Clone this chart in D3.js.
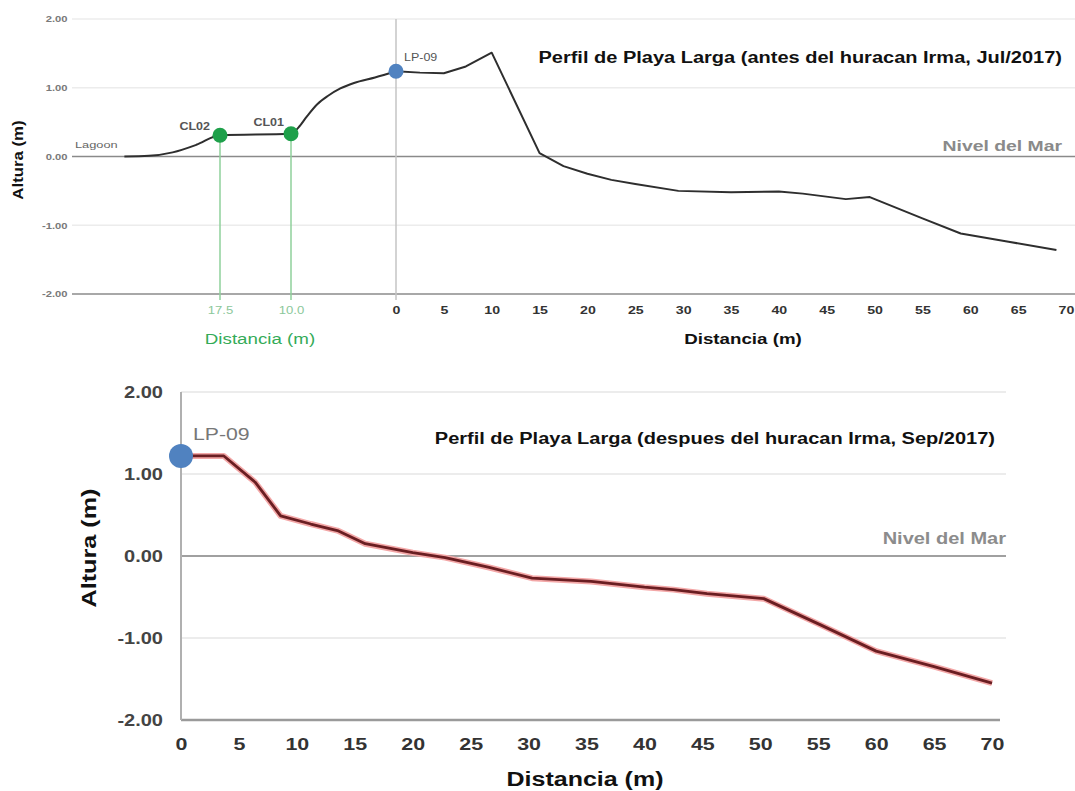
<!DOCTYPE html>
<html>
<head>
<meta charset="utf-8">
<script src="https://cdn.jsdelivr.net/npm/d3@7"></script>
<style>
  body { margin: 0; background: #fff; }
  svg { display: block; font-family: "Liberation Sans", Arial, sans-serif; }
</style>
</head>
<body>
<svg id="chart" width="1075" height="791"></svg>
<script>
// before Irma (Jul/2017) - negative distance = inland side of LP-09
const topDist = [-27.6, -25, -22.5, -20, -17.5, -10, -9.3, -8.5, -7.5, -6.5, -5.3, -4, -2, 0, 2.5, 5, 7.3, 10, 15, 17.5, 20, 22.5, 25, 29.5, 35, 40, 42.5, 47, 49.5, 55, 59, 64, 69];
const topAlt  = [0, 0.01, 0.06, 0.17, 0.31, 0.33, 0.42, 0.58, 0.76, 0.88, 0.99, 1.07, 1.15, 1.24, 1.22, 1.21, 1.31, 1.51, 0.05, -0.14, -0.25, -0.34, -0.40, -0.50, -0.52, -0.51, -0.54, -0.62, -0.59, -0.90, -1.12, -1.24, -1.36];

// after Irma (Sep/2017)
const botDist = [0, 3.7, 6.4, 8.6, 11.2, 13.5, 15.9, 20, 22.8, 26.6, 30.3, 35.4, 40, 42.5, 45.4, 50.3, 55.2, 60, 65, 70];
const botAlt  = [1.22, 1.22, 0.90, 0.49, 0.39, 0.31, 0.15, 0.04, -0.02, -0.14, -0.27, -0.31, -0.38, -0.41, -0.46, -0.52, -0.84, -1.16, -1.35, -1.55];

const stationNames = ["CL02", "CL01", "LP-09"];
const stationDist  = [-17.5, -10, 0];
const stationAlt   = [0.31, 0.33, 1.24];

const yTicks = [-2, -1, 0, 1, 2];
const xTicks = [0, 5, 10, 15, 20, 25, 30, 35, 40, 45, 50, 55, 60, 65, 70];
const inlandTicks = [-17.5, -10];

const SX = 1.25; // the picture is stretched sideways

const svg = d3.select("#chart");

function label(g, x, y, s, size, opts) {
  opts = opts || {};
  const rot = opts.rotate ? " rotate(" + opts.rotate + ")" : "";
  const sx = opts.sx || SX;
  return g.append("text")
    .attr("transform", "translate(" + x + "," + y + ")" + rot + " scale(" + sx + ",1)")
    .attr("text-anchor", opts.anchor || "start")
    .attr("font-size", size)
    .attr("font-weight", opts.weight || "bold")
    .attr("fill", opts.color || "#111")
    .text(s);
}

const fmt2 = d => d.toFixed(2);

// ---------- top chart ----------
const xTop = d3.scaleLinear().domain([-17.5, -10, 0, 70]).range([220, 291, 396, 1066]);
const yTop = d3.scaleLinear().domain([-2, 2]).range([294, 19]);
const gTop = svg.append("g");

gTop.selectAll(".grid").data(yTicks).enter().append("line")
  .attr("x1", 72).attr("x2", 1075)
  .attr("y1", d => yTop(d)).attr("y2", d => yTop(d))
  .attr("stroke", d => d == 0 ? "#8a8a8a" : d == -2 ? "#a8a8a8" : "#ececec")
  .attr("stroke-width", d => d == 0 ? 1.5 : d == -2 ? 2 : 1.5);

gTop.append("line")
  .attr("x1", xTop(0)).attr("x2", xTop(0))
  .attr("y1", yTop(2)).attr("y2", yTop(-2) + 6)
  .attr("stroke", "#c4c4c4").attr("stroke-width", 1.5);

gTop.selectAll(".gline").data(stationDist.slice(0, 2)).enter().append("line")
  .attr("x1", d => xTop(d)).attr("x2", d => xTop(d))
  .attr("y1", (d, i) => yTop(stationAlt[i])).attr("y2", yTop(-2) + 6)
  .attr("stroke", "#8fd09b").attr("stroke-width", 1.5);

const yAxTop = gTop.append("g").attr("transform", "translate(70,0)")
  .call(d3.axisLeft(yTop).tickValues(yTicks).tickFormat(fmt2).tickSize(0));
yAxTop.select(".domain").remove();
yAxTop.selectAll("text").attr("font-size", 9).attr("font-weight", "bold")
  .attr("fill", "#7a7a7a").attr("font-family", "Liberation Sans, Arial").attr("x", -2)
  .attr("transform", "scale(" + SX + ",1)");

const xAxTop = gTop.append("g").attr("transform", "translate(0," + yTop(-2) + ")")
  .call(d3.axisBottom(xTop).tickValues(xTicks).tickSize(0).tickPadding(13));
xAxTop.select(".domain").remove();
xAxTop.selectAll("text").attr("font-size", 10.5).attr("font-weight", "bold")
  .attr("fill", "#333").attr("font-family", "Liberation Sans, Arial")
  .attr("transform", "scale(1.35,1)");

const gAxTop = gTop.append("g").attr("transform", "translate(0," + yTop(-2) + ")")
  .call(d3.axisBottom(xTop).tickValues(inlandTicks).tickFormat(d => Math.abs(d).toFixed(1)).tickSize(0).tickPadding(13));
gAxTop.select(".domain").remove();
gAxTop.selectAll("text").attr("font-size", 10.5)
  .attr("fill", "#8cc79a").attr("font-family", "Liberation Sans, Arial")
  .attr("transform", "scale(" + SX + ",1)");

// inland part is drawn smooth, beach part with straight segments
const topData = d3.zip(topDist, topAlt);
const lineSmooth = d3.line().x(d => xTop(d[0])).y(d => yTop(d[1])).curve(d3.curveMonotoneX);
const lineStraight = d3.line().x(d => xTop(d[0])).y(d => yTop(d[1]));
gTop.append("path").datum(topData.filter(d => d[0] <= 0))
  .attr("d", lineSmooth).attr("fill", "none")
  .attr("stroke", "#2e2e2e").attr("stroke-width", 2);
gTop.append("path").datum(topData.filter(d => d[0] >= 0))
  .attr("d", lineStraight).attr("fill", "none")
  .attr("stroke", "#2e2e2e").attr("stroke-width", 2).attr("stroke-linejoin", "round");

gTop.selectAll(".st").data(stationDist).enter().append("circle")
  .attr("cx", d => xTop(d)).attr("cy", (d, i) => yTop(stationAlt[i]))
  .attr("r", 7.5)
  .attr("fill", (d, i) => i == 2 ? "#5082c0" : "#1ea04a");

label(gTop, xTop(-17.5) - 10, yTop(stationAlt[0]) - 5, stationNames[0], 10, { anchor: "end", color: "#555" });
label(gTop, xTop(-10) - 7, yTop(stationAlt[1]) - 8, stationNames[1], 10, { anchor: "end", color: "#555" });
label(gTop, xTop(0) + 8, yTop(stationAlt[2]) - 10, stationNames[2], 10, { color: "#555", weight: "normal" });
label(gTop, 75, 148, "Lagoon", 9.5, { color: "#666", weight: "normal", sx: 1.35 });

label(gTop, 1062, 63, "Perfil de Playa Larga (antes del huracan Irma, Jul/2017)", 16, { anchor: "end" });
label(gTop, 1062, 151, "Nivel del Mar", 15.5, { anchor: "end", color: "#8a8a8a" });
label(gTop, 743, 344, "Distancia (m)", 15, { anchor: "middle" });
label(gTop, 260, 344, "Distancia (m)", 15, { anchor: "middle", color: "#34ab58", weight: "normal" });
label(gTop, 23, 160, "Altura (m)", 14, { anchor: "middle", rotate: -90, sx: 1.2 });

// ---------- bottom chart ----------
const xBot = d3.scaleLinear().domain([0, 70]).range([181, 992]);
const yBot = d3.scaleLinear().domain([-2, 2]).range([720, 392]);
const gBot = svg.append("g");

gBot.selectAll(".grid").data(yTicks).enter().append("line")
  .attr("x1", 181).attr("x2", d => d == -2 ? 1000 : 1006)
  .attr("y1", d => yBot(d)).attr("y2", d => yBot(d))
  .attr("stroke", d => d == 0 ? "#a0a0a0" : d == -2 ? "#9a9a9a" : "#ececec")
  .attr("stroke-width", d => d == 0 ? 2 : d == -2 ? 2.5 : 2);

gBot.append("line")
  .attr("x1", 181).attr("x2", 181)
  .attr("y1", yBot(2)).attr("y2", yBot(-2))
  .attr("stroke", "#b0b0b0").attr("stroke-width", 2);

const yAxBot = gBot.append("g").attr("transform", "translate(163,0)")
  .call(d3.axisLeft(yBot).tickValues(yTicks).tickFormat(fmt2).tickSize(0));
yAxBot.select(".domain").remove();
yAxBot.selectAll("text").attr("font-size", 16).attr("font-weight", "bold")
  .attr("fill", "#444").attr("font-family", "Liberation Sans, Arial").attr("x", 0)
  .attr("transform", "scale(" + SX + ",1)");

const xAxBot = gBot.append("g").attr("transform", "translate(0," + yBot(-2) + ")")
  .call(d3.axisBottom(xBot).tickValues(xTicks).tickSize(0).tickPadding(18));
xAxBot.select(".domain").remove();
xAxBot.selectAll("text").attr("font-size", 16.5).attr("font-weight", "bold")
  .attr("fill", "#333").attr("font-family", "Liberation Sans, Arial")
  .attr("transform", "scale(1.3,1)");

const lineBot = d3.line().x(d => xBot(d[0])).y(d => yBot(d[1]));
const botData = d3.zip(botDist, botAlt);
gBot.append("path").datum(botData)
  .attr("d", lineBot).attr("fill", "none")
  .attr("stroke", "#f3a7a7").attr("stroke-width", 6).attr("stroke-linejoin", "round");
gBot.append("path").datum(botData)
  .attr("d", lineBot).attr("fill", "none")
  .attr("stroke", "#6a1e22").attr("stroke-width", 2.8).attr("stroke-linejoin", "round");

gBot.append("circle")
  .attr("cx", xBot(botDist[0])).attr("cy", yBot(botAlt[0]))
  .attr("r", 12).attr("fill", "#5082c0");

label(gBot, 193, 440, "LP-09", 17, { color: "#777", weight: "normal" });
label(gBot, 995, 444, "Perfil de Playa Larga (despues del huracan Irma, Sep/2017)", 16, { anchor: "end" });
label(gBot, 1006, 544, "Nivel del Mar", 16, { anchor: "end", color: "#8c8c8c" });
label(gBot, 585, 786, "Distancia (m)", 20, { anchor: "middle" });
label(gBot, 96, 548, "Altura (m)", 21, { anchor: "middle", rotate: -90, sx: 1.2 });
</script>
</body>
</html>
